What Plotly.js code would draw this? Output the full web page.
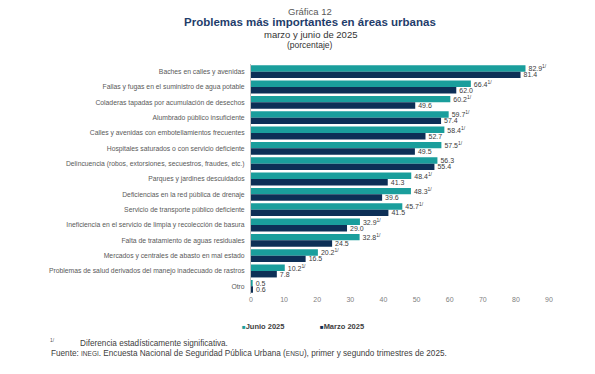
<!DOCTYPE html>
<html><head><meta charset="utf-8">
<script src="https://cdn.plot.ly/plotly-3.0.1.min.js"></script>
<style>html,body{margin:0;padding:0;background:#fff}#chart{width:595px;height:374px}</style>
</head><body><div id="chart"></div>
<script>
const categories = [
  "Baches en calles y avenidas",
  "Fallas y fugas en el suministro de agua potable",
  "Coladeras tapadas por acumulación de desechos",
  "Alumbrado público insuficiente",
  "Calles y avenidas con embotellamientos frecuentes",
  "Hospitales saturados o con servicio deficiente",
  "Delincuencia (robos, extorsiones, secuestros, fraudes, etc.)",
  "Parques y jardines descuidados",
  "Deficiencias en la red pública de drenaje",
  "Servicio de transporte público deficiente",
  "Ineficiencia en el servicio de limpia y recolección de basura",
  "Falta de tratamiento de aguas residuales",
  "Mercados y centrales de abasto en mal estado",
  "Problemas de salud derivados del manejo inadecuado de rastros",
  "Otro"
];
const junio2025 = [82.9, 66.4, 60.2, 59.7, 58.4, 57.5, 56.3, 48.4, 48.3, 45.7, 32.9, 32.8, 20.2, 10.2, 0.5];
const marzo2025 = [81.4, 62.0, 49.6, 57.4, 52.7, 49.5, 55.4, 41.3, 39.6, 41.5, 29.0, 24.5, 16.5, 7.8, 0.6];
const significativa = [true, true, true, true, true, true, false, true, true, true, true, true, true, true, false];
const xTicks = [0, 10, 20, 30, 40, 50, 60, 70, 80, 90];
const seriesNames = ["Junio 2025", "Marzo 2025"];
const seriesColors = ["#1a9e9c", "#0d2f56"];

const junioText = junio2025.map((v, i) => v.toFixed(1) + (significativa[i] ? "<sup>1/</sup>" : ""));
const marzoText = marzo2025.map(v => v.toFixed(1));

const FAM = "Liberation Sans, Arial, sans-serif";
const labelFont = {family: FAM, size: 7, color: "#3a3a3a"};

const traces = [
  {type: "bar", orientation: "h", name: seriesNames[0], y: categories, x: junio2025,
   marker: {color: seriesColors[0], line: {width: 0}}, text: junioText, textposition: "outside",
   constraintext: "none", textfont: labelFont, cliponaxis: false, hoverinfo: "skip", showlegend: false},
  {type: "bar", orientation: "h", name: seriesNames[1], y: categories, x: marzo2025,
   marker: {color: seriesColors[1], line: {width: 0}}, text: marzoText, textposition: "outside",
   constraintext: "none", textfont: labelFont, cliponaxis: false, hoverinfo: "skip", showlegend: false}
];

const plotW = 595 - 251 - 46, plotH = 374 - 64 - 80;
function px(x) { return (x - 251) / plotW; }
function py(y) { return (374 - 80 - y) / plotH; }
function ann(xp, yp, text, font, anchor) {
  return {xref: "paper", yref: "paper", x: px(xp), y: py(yp), xanchor: anchor || "left", yanchor: "middle",
          showarrow: false, text: text, font: font};
}

const annotations = [
  ann(310, 11, "Gráfica 12", {family: FAM, size: 9.5, color: "#595959"}, "center"),
  ann(310, 22, "<b>Problemas más importantes en áreas urbanas</b>", {family: FAM, size: 11.5, color: "#1f3d6b"}, "center"),
  ann(310, 34, "marzo y junio de 2025", {family: FAM, size: 9.5, color: "#333333"}, "center"),
  ann(310, 45, "(porcentaje)", {family: FAM, size: 8.5, color: "#333333"}, "center"),
  ann(48, 340, "<sup>1/</sup>", {family: FAM, size: 7, color: "#555555"}),
  ann(78, 343, "Diferencia estadísticamente significativa.", {family: FAM, size: 8.2, color: "#404040"}),
  ann(49, 353, "Fuente: <span style='font-size:6.5px'>INEGI</span>. Encuesta Nacional de Seguridad Pública Urbana (<span style='font-size:6.5px'>ENSU</span>), primer y segundo trimestres de 2025.",
      {family: FAM, size: 8.2, color: "#404040"}),
  // legend
  ann(240, 326, "<span style='color:" + seriesColors[0] + ";font-size:6px'>■</span><b>" + seriesNames[0] + "</b>", {family: FAM, size: 7.5, color: "#404040"}),
  ann(318, 326, "<span style='color:" + seriesColors[1] + ";font-size:6px'>■</span><b>" + seriesNames[1] + "</b>", {family: FAM, size: 7.5, color: "#404040"})
];

const layout = {
  width: 595, height: 374,
  margin: {l: 251, r: 46, t: 64, b: 80},
  paper_bgcolor: "#fff", plot_bgcolor: "#fff",
  barmode: "group", bargap: 0.16, bargroupgap: 0,
  showlegend: false,
  xaxis: {range: [0, 90], tickvals: xTicks, showgrid: false, zeroline: false, showline: false,
          ticks: "", tickfont: {family: FAM, size: 7, color: "#808080"}},
  yaxis: {autorange: "reversed", showgrid: false, zeroline: false, showline: true, linecolor: "#bfbfbf",
          linewidth: 1, ticks: "", ticklabelstandoff: 4,
          tickfont: {family: FAM, size: 6.8, color: "#595959"}},
  annotations: annotations
};

Plotly.newPlot("chart", traces, layout, {displayModeBar: false, staticPlot: true});
</script></body></html>
